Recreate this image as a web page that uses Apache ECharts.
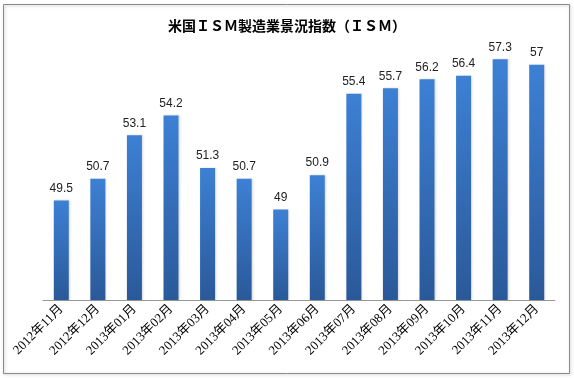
<!DOCTYPE html>
<html>
<head>
<meta charset="utf-8">
<script src="https://cdn.jsdelivr.net/npm/echarts@6/dist/echarts.min.js"></script>
<style>
    html, body { margin: 0; padding: 0; background: #fff; }
    #chart { width: 574px; height: 378px; }
</style>
</head>
<body>
<div id="chart"></div>
<script>
// 月
var months = ['2012年11月', '2012年12月', '2013年01月', '2013年02月', '2013年03月', '2013年04月', '2013年05月',
    '2013年06月', '2013年07月', '2013年08月', '2013年09月', '2013年10月', '2013年11月', '2013年12月'];
// ISM 指数
var ismValues = [49.5, 50.7, 53.1, 54.2, 51.3, 50.7, 49, 50.9, 55.4, 55.7, 56.2, 56.4, 57.3, 57];

var chart = echarts.init(document.getElementById('chart'));

var option = {
    animation: false,
    title: {
        text: '米国ＩＳＭ製造業景況指数（ＩＳＭ）',
        left: 'center',
        top: 14,
        textStyle: {
            fontFamily: 'Noto Sans CJK JP',
            fontSize: 14,
            fontWeight: 'bold',
            color: '#000'
        }
    },
    graphic: [{
        type: 'rect',
        shape: { x: 3.5, y: 4.5, width: 566, height: 369 },
        style: {
            fill: 'none',
            stroke: '#8a8a8a',
            lineWidth: 1,
            shadowBlur: 3,
            shadowOffsetX: 1,
            shadowOffsetY: 1,
            shadowColor: 'rgba(0,0,0,0.25)'
        },
        z: -1
    }],
    grid: {
        left: 43,
        right: 19,
        top: 46.7,
        bottom: 78
    },
    xAxis: {
        type: 'category',
        data: months,
        axisLine: {
            lineStyle: { color: '#999', width: 1 }
        },
        axisTick: { show: false },
        axisLabel: {
            rotate: 45,
            interval: 0,
            margin: 7,
            fontSize: 13,
            fontFamily: 'Liberation Serif, Noto Sans CJK JP',
            color: '#000'
        }
    },
    yAxis: {
        type: 'value',
        min: 44,
        max: 58,
        show: false
    },
    series: [{
        type: 'bar',
        data: ismValues,
        barWidth: 15,
        itemStyle: {
            color: new echarts.graphic.LinearGradient(0, 0, 0, 1, [
                { offset: 0, color: '#3d80d4' },
                { offset: 1, color: '#2a5999' }
            ]),
            shadowBlur: 2,
            shadowOffsetX: 1,
            shadowOffsetY: 0,
            shadowColor: 'rgba(0,0,0,0.15)'
        },
        label: {
            show: true,
            position: 'top',
            distance: 6,
            fontSize: 12,
            fontFamily: 'Liberation Sans',
            color: '#222'
        }
    }]
};

chart.setOption(option);
</script>
</body>
</html>
